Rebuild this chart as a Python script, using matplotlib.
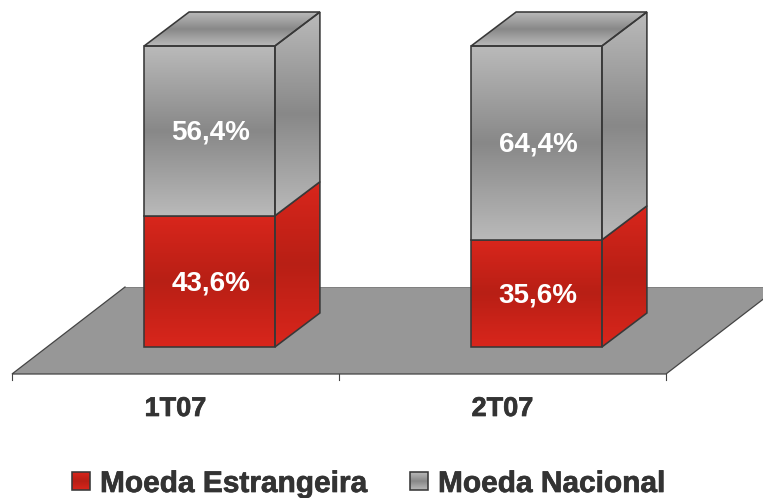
import numpy as np
import matplotlib
matplotlib.use('Agg')
import matplotlib.pyplot as plt
import matplotlib.patheffects as pe
from matplotlib.colors import LinearSegmentedColormap
from matplotlib.patches import Polygon

categories = ["1T07", "2T07"]
estrangeira = [43.6, 35.6]
nacional = [56.4, 64.4]
series_names = ["Moeda Estrangeira", "Moeda Nacional"]

plt.rcParams['font.family'] = ['Liberation Sans', 'DejaVu Sans']
# reference text is not kerned
plt.rcParams['text.kerning_factor'] = 16

# one category = 327 px, 1% = 3.01 px, baseline of the bars at pixel row 347
PX_X = 327.
PX_Y = 3.01
W, H = 763, 498

def px(x, y):
  return (x - 12)/PX_X, (347 - y)/PX_Y

def pct(v):
  return str(v).replace(".", ",") + "%"

greyMap = LinearSegmentedColormap.from_list("grey", ["#bababa", "#888888", "#bababa"])
redMap = LinearSegmentedColormap.from_list("red", ["#d9261c", "#b81f15", "#d9261c"])
grad = np.linspace(0, 1, 256).reshape(-1, 1)
edge = "#383838"
heavy = [pe.withStroke(linewidth=0.5, foreground="#333333")]

fig = plt.figure(figsize=(W/100., H/100.), dpi=100)
ax = fig.add_axes([0, 0, 1, 1])
ax.axis('off')

def face(corners, cmap, z):
  corners = np.array(corners)
  im = ax.imshow(grad, cmap=cmap, aspect='auto', zorder=z, vmin=0, vmax=1,
      extent=[corners[:,0].min(), corners[:,0].max(),
              corners[:,1].min(), corners[:,1].max()])
  poly = Polygon(corners, closed=True, transform=ax.transData, fc='none',
      ec=edge, lw=1.15, joinstyle='miter', zorder=z+0.5)
  ax.add_patch(poly)
  im.set_clip_path(poly)

###  Floor  ###
floorDepthX, floorDepthY = 113/PX_X, 87/PX_Y
floorY = -27/PX_Y
floor = [(0, floorY), (2, floorY), (2 + floorDepthX, floorY + floorDepthY),
    (floorDepthX, floorY + floorDepthY)]
ax.add_patch(Polygon(floor, closed=True, fc="#979797", ec="none", zorder=1))
ax.plot([floor[3][0], 0, 2, floor[2][0]], [floor[3][1], floorY, floorY, floor[2][1]],
    color="#444444", lw=0.9, zorder=1.2, solid_joinstyle='miter')
ax.plot([floor[3][0], floor[2][0]], [floor[3][1], floor[3][1]], color="#7c7c7c",
    lw=0.6, zorder=1.1)
for t in range(3):
  ax.plot([t, t], [floorY, floorY - 6/PX_Y], color="#444444", lw=0.8, zorder=1.2)

###  Bars  ###
dx, dy = 45/PX_X, 34/PX_Y
barL, barR = 0.404, 0.804
for i, name in enumerate(categories):
  l = i + barL
  r = i + barR
  low = estrangeira[i]
  top = low + nacional[i]
  face([(l, 0), (r, 0), (r, low), (l, low)], redMap, 3)
  face([(r, 0), (r + dx, dy), (r + dx, low + dy), (r, low)], redMap, 3)
  face([(l, low), (r, low), (r, top), (l, top)], greyMap, 4)
  face([(r, low), (r + dx, low + dy), (r + dx, top + dy), (r, top)], greyMap, 4)
  face([(l, top), (r, top), (r + dx, top + dy), (l + dx, top + dy)], greyMap, 4)

  xc = (l + r)/2 + 1.5/PX_X
  yoff = -2/PX_Y
  ax.text(xc, low/2 + yoff, pct(low), color='white', fontsize=20,
      fontweight='bold', ha='center', va='center', zorder=6)
  ax.text(xc, low + nacional[i]/2 + yoff, pct(nacional[i]), color='white', fontsize=20,
      fontweight='bold', ha='center', va='center', zorder=6)
  ax.text(i + 0.5, (347 - 416)/PX_Y, name, color="#333333", fontsize=19.5,
      fontweight='bold', ha='center', va='baseline', zorder=6, path_effects=heavy)

###  Legend  ###
swatchX = [72, 410]
textX = [100, 438]
for i, name in enumerate(series_names):
  cmap = redMap if i == 0 else greyMap
  face([px(swatchX[i], 472), px(swatchX[i] + 18, 472), px(swatchX[i] + 18, 490),
      px(swatchX[i], 490)], cmap, 5)
  tx, ty = px(textX[i], 492)
  ax.text(tx, ty, name, color="#333333", fontsize=21.5, fontweight='bold',
      ha='left', va='baseline', zorder=6, path_effects=heavy)

ax.set_xlim(px(0, 0)[0], px(W, 0)[0])
ax.set_ylim(px(0, H)[1], px(0, 0)[1])

fig.savefig("out.png", dpi=100)
